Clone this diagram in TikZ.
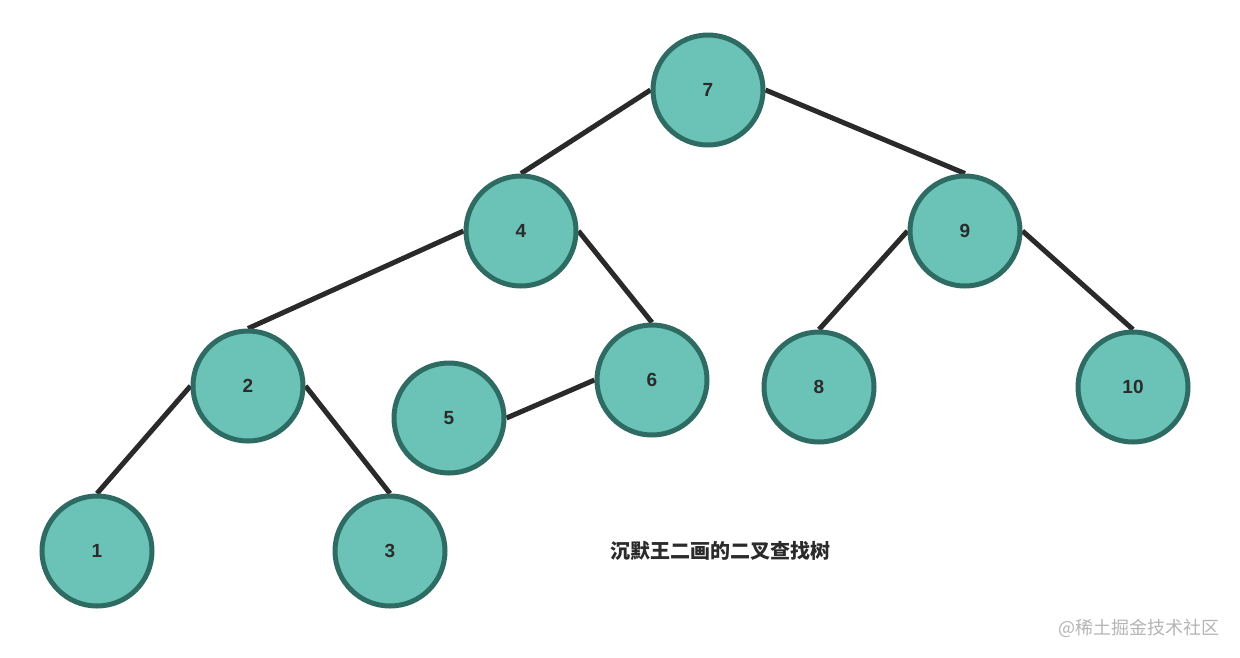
\documentclass[tikz,border=0pt]{standalone}
\usepackage{fontspec}
\setmainfont{Liberation Sans}
\newfontfamily\cjk{Noto Sans CJK SC}
\usetikzlibrary{backgrounds}
\definecolor{nodefill}{HTML}{6BC3B8}
\definecolor{nodeborder}{HTML}{2E6B63}
\definecolor{edgecol}{HTML}{2A2A2A}
\definecolor{txtcol}{HTML}{2B2B2B}
\definecolor{wmcol}{HTML}{B4B4B4}
\begin{document}
\begin{tikzpicture}[x=1pt,y=-1pt,
  treenode/.style={circle,draw=nodeborder,fill=nodefill,line width=5pt,minimum size=110pt,inner sep=0pt,font=\fontsize{19}{19}\selectfont\bfseries,text=txtcol},
  edge/.style={draw=edgecol,line width=5pt}]
\useasboundingbox (0,0) rectangle (1240,657);
\node[treenode] (n7) at (708,90) {7};
\node[treenode] (n4) at (521,231) {4};
\node[treenode] (n9) at (965,231) {9};
\node[treenode] (n2) at (248,386) {2};
\node[treenode] (n6) at (652,380) {6};
\node[treenode] (n5) at (449,418) {5};
\node[treenode] (n8) at (819,387) {8};
\node[treenode] (n10) at (1133,387) {10};
\node[treenode] (n1) at (97,551) {1};
\node[treenode] (n3) at (390,551) {3};
\begin{pgfonlayer}{background}
\draw[edge] (n7.west) -- (n4.north);
\draw[edge] (n7.east) -- (n9.north);
\draw[edge] (n4.west) -- (n2.north);
\draw[edge] (n4.east) -- (n6.north);
\draw[edge] (n9.west) -- (n8.north);
\draw[edge] (n9.east) -- (n10.north);
\draw[edge] (n2.west) -- (n1.north);
\draw[edge] (n2.east) -- (n3.north);
\draw[edge] (n6.west) -- (n5.east);
\end{pgfonlayer}
\node[font=\cjk\bfseries\fontsize{20}{20}\selectfont,text=txtcol] (cap) at (720,551) {沉默王二画的二叉查找树};
\node[font=\cjk\fontsize{18}{18}\selectfont,text=wmcol,anchor=east] (wm) at (1223,628) {@稀土掘金技术社区};
\end{tikzpicture}
\end{document}
